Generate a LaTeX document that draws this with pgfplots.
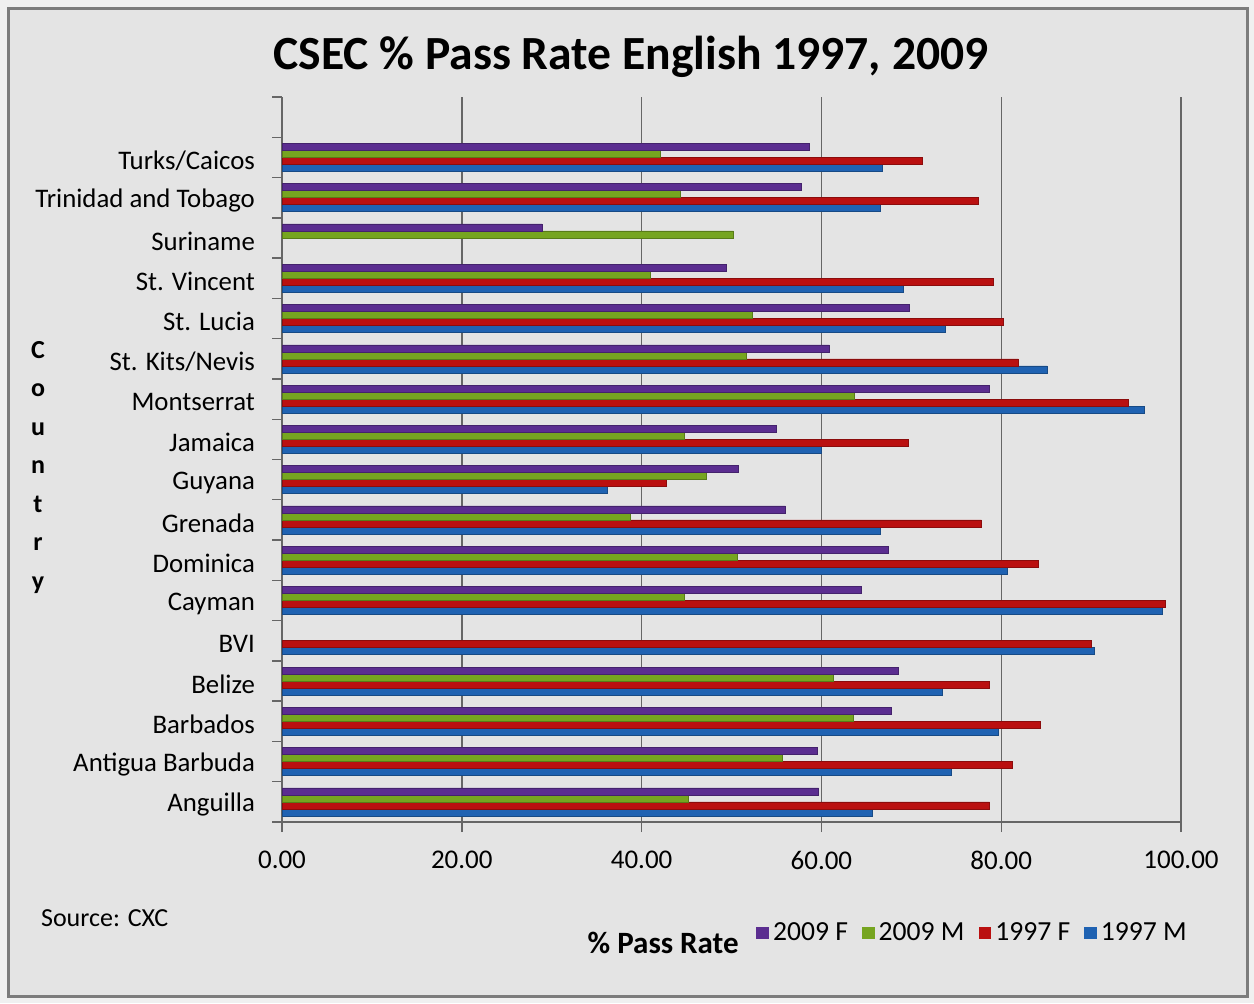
\documentclass[border=0pt]{standalone}
\usepackage{pgfplots}
\pgfplotsset{compat=1.18}
\usepackage{fontspec}
\setmainfont{Carlito}

\definecolor{bgc}{HTML}{E4E4E4}
\definecolor{framec}{HTML}{7C7C7C}
\definecolor{gridc}{HTML}{666666}
\definecolor{cF09}{HTML}{5B2D90}
\definecolor{cM09}{HTML}{76A520}
\definecolor{cF97}{HTML}{BA1010}
\definecolor{cM97}{HTML}{1F62B2}

% small square swatches for the legend of horizontal bars
\pgfplotsset{
  /pgfplots/xbar legend/.style={
    /pgfplots/legend image code/.code={%
      \fill[##1, draw=none] (0pt,-3.2pt) rectangle (6.4pt,3.2pt);}},
}

\begin{document}
\begin{tikzpicture}
% page background, frame and free text (pixel-like units, y downwards)
\begin{scope}[x=0.5pt,y=-0.5pt]
  \fill[white!94!black] (0,0) rectangle (1254,1003);
  \draw[framec, line width=1.5pt, fill=bgc] (8,8) rectangle (1247,996);
  \node[font=\fontsize{23.8}{28}\selectfont\bfseries] at (631,57)
    {CSEC \% Pass Rate English 1997, 2009};
  \node[anchor=west, font=\fontsize{13}{15}\selectfont] at (34,918) {Source: CXC};
  \node[font=\fontsize{13}{19.25}\selectfont\bfseries] at (38,466)
    {\begin{tabular}{@{}c@{}}C\\o\\u\\n\\t\\r\\y\end{tabular}};
\end{scope}

\begin{axis}[
  at={(141pt,-411pt)}, anchor=south west,
  scale only axis, width=449.5pt, height=362.5pt,
  xbar=0pt, bar width=3.5pt,
  xmin=0, xmax=100, ymin=-0.5, ymax=17.5,
  axis x line*=bottom, axis y line*=left,
  axis line style={gridc, line width=0.8pt},
  xtick={0,20,...,100},
  xmajorgrids, grid style={gridc, line width=0.7pt},
  tick align=outside, major tick length=5pt,
  tick style={gridc, line width=0.7pt},
  /pgf/number format/.cd, fixed, fixed zerofill, precision=2, assume math mode=true,
  /pgfplots/.cd,
  xticklabel style={font=\fontsize{13.5}{16}\selectfont, yshift=-6pt},
  ytick={-0.5,0.5,...,17.5}, yticklabel={\relax},
  extra y ticks={0,1,...,16},
  extra y tick labels={Anguilla,Antigua Barbuda,Barbados,Belize,BVI,Cayman,Dominica,Grenada,Guyana,Jamaica,Montserrat,St. Kits/Nevis,St. Lucia,St. Vincent,Suriname,Trinidad and Tobago,Turks/Caicos},
  extra y tick style={major tick length=0pt,
    yticklabel style={font=\fontsize{13.4}{16}\selectfont, xshift=-10pt, yshift=-1.5pt}},
  xlabel={\% Pass Rate},
  xlabel style={at={(axis description cs:0.424,-0.167)}, anchor=center,
    font=\fontsize{15.5}{18}\selectfont\bfseries},
  reverse legend, legend columns=-1,
  legend style={draw=none, fill=none, at={(1.018,-0.153)}, anchor=east,
    font=\fontsize{13.8}{16}\selectfont,
    /tikz/every even column/.append style={column sep=5pt}},
]
% 1997 M
\addplot[fill=cM97, draw=cM97!75!black, line width=0.3pt] coordinates {
 (65.7,0) (74.5,1) (79.7,2) (73.4,3) (90.4,4) (97.9,5) (80.7,6) (66.5,7)
 (36.2,8) (60.0,9) (95.9,10) (85.1,11) (73.8,12) (69.1,13) (66.6,15) (66.8,16)};
% 1997 F
\addplot[fill=cF97, draw=cF97!75!black, line width=0.3pt] coordinates {
 (78.7,0) (81.2,1) (84.3,2) (78.7,3) (90.0,4) (98.3,5) (84.1,6) (77.8,7)
 (42.8,8) (69.7,9) (94.1,10) (81.9,11) (80.2,12) (79.1,13) (77.4,15) (71.2,16)};
% 2009 M
\addplot[fill=cM09, draw=cM09!75!black, line width=0.3pt] coordinates {
 (45.2,0) (55.7,1) (63.6,2) (61.3,3) (44.8,5) (50.7,6) (38.7,7) (47.2,8)
 (44.8,9) (63.7,10) (51.6,11) (52.3,12) (41.0,13) (50.2,14) (44.3,15) (42.1,16)};
% 2009 F
\addplot[fill=cF09, draw=cF09!75!black, line width=0.3pt] coordinates {
 (59.7,0) (59.5,1) (67.8,2) (68.5,3) (64.4,5) (67.4,6) (56.0,7) (50.8,8)
 (55.0,9) (78.7,10) (60.9,11) (69.8,12) (49.4,13) (28.9,14) (57.8,15) (58.7,16)};
\legend{1997 M,1997 F,2009 M,2009 F}
\end{axis}
\end{tikzpicture}
\end{document}
